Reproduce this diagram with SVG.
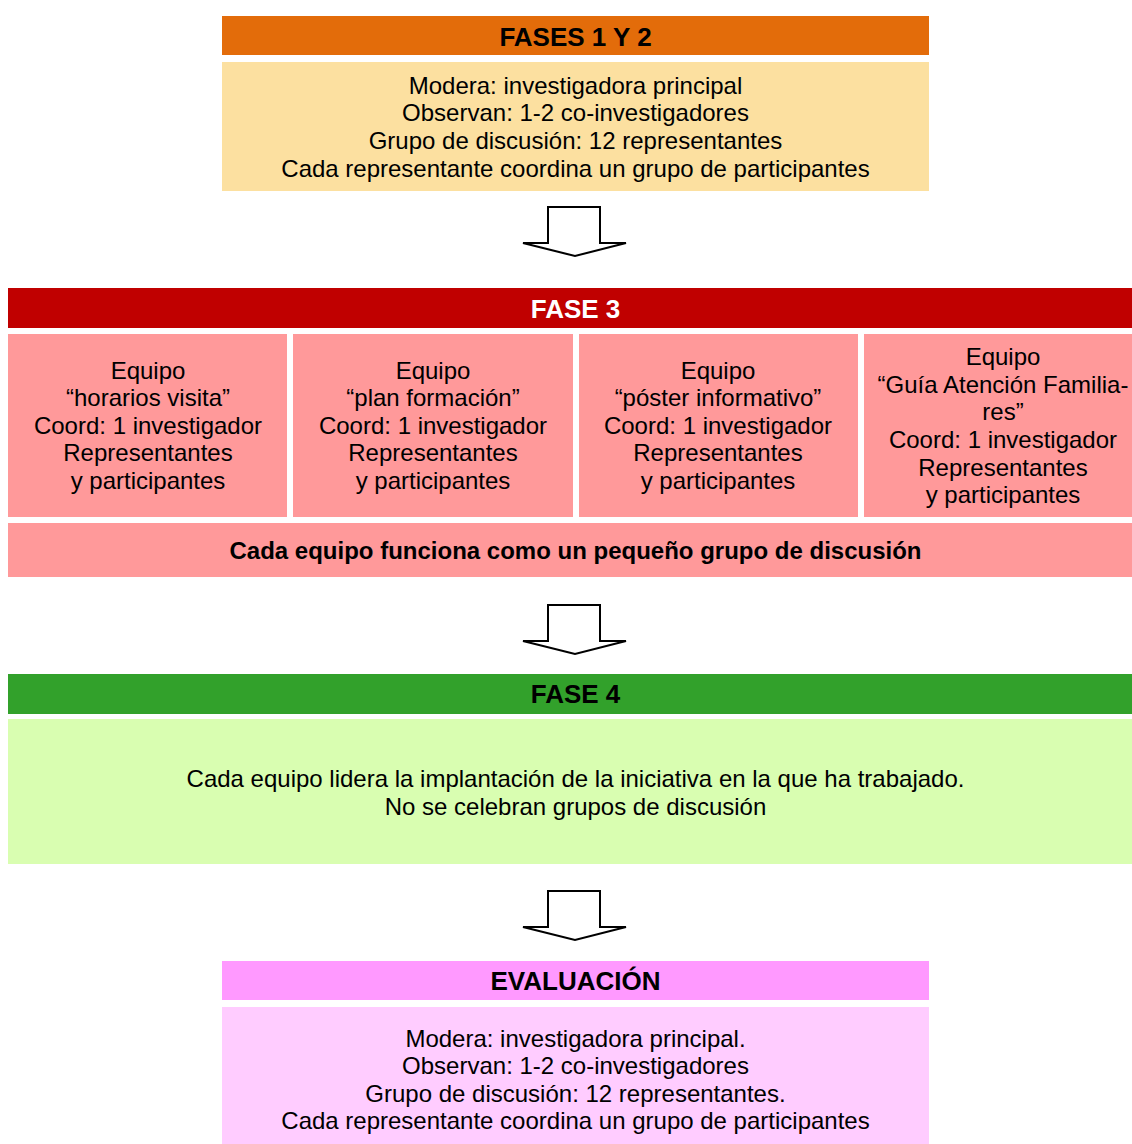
<svg xmlns="http://www.w3.org/2000/svg" width="1132" height="1144" viewBox="0 0 1132 1144">
<style>
text{font-family:"Liberation Sans",Arial,sans-serif;font-size:24px;fill:#000;text-anchor:middle}
.h{font-weight:bold;font-size:26px}
.b{font-weight:bold}
.w{fill:#fff}
.arr{fill:#fff;stroke:#000;stroke-width:2;stroke-linejoin:miter}
</style>
<rect width="1132" height="1144" fill="#fff"/>
<g id="fases12">
<rect x="222" y="16" width="707" height="39" fill="#E36C0A"/>
<text class="h" x="575.5" y="46">FASES 1 Y 2</text>
<rect x="222" y="62" width="707" height="129" fill="#FCE0A0"/>
<text x="575.5" y="94">Modera: investigadora principal</text>
<text x="575.5" y="121">Observan: 1-2 co-investigadores</text>
<text x="575.5" y="149">Grupo de discusión: 12 representantes</text>
<text x="575.5" y="177">Cada representante coordina un grupo de participantes</text>
</g>
<g id="fase3">
<rect x="8" y="288" width="1124" height="40" fill="#C00000"/>
<text class="h w" x="575.5" y="318">FASE 3</text>
</g>
<g id="equipo1">
<rect x="8" y="334" width="279" height="183" fill="#FF999A"/>
<text x="148" y="379">Equipo</text>
<text x="148" y="406">“horarios visita”</text>
<text x="148" y="434">Coord: 1 investigador</text>
<text x="148" y="461">Representantes</text>
<text x="148" y="489">y participantes</text>
</g>
<g id="equipo2">
<rect x="293" y="334" width="280" height="183" fill="#FF999A"/>
<text x="433" y="379">Equipo</text>
<text x="433" y="406">“plan formación”</text>
<text x="433" y="434">Coord: 1 investigador</text>
<text x="433" y="461">Representantes</text>
<text x="433" y="489">y participantes</text>
</g>
<g id="equipo3">
<rect x="579" y="334" width="279" height="183" fill="#FF999A"/>
<text x="718" y="379">Equipo</text>
<text x="718" y="406">“póster informativo”</text>
<text x="718" y="434">Coord: 1 investigador</text>
<text x="718" y="461">Representantes</text>
<text x="718" y="489">y participantes</text>
</g>
<g id="equipo4">
<rect x="864" y="334" width="268" height="183" fill="#FF999A"/>
<text x="1003" y="365">Equipo</text>
<text x="1003" y="393">“Guía Atención Familia-</text>
<text x="1003" y="420">res”</text>
<text x="1003" y="448">Coord: 1 investigador</text>
<text x="1003" y="476">Representantes</text>
<text x="1003" y="503">y participantes</text>
</g>
<g id="fase3nota">
<rect x="8" y="523" width="1124" height="54" fill="#FF999A"/>
<text class="b" x="575.5" y="559">Cada equipo funciona como un pequeño grupo de discusión</text>
</g>
<g id="fase4">
<rect x="8" y="674" width="1124" height="40" fill="#32A12B"/>
<text class="h" x="575.5" y="703">FASE 4</text>
<rect x="8" y="719" width="1124" height="145" fill="#D9FEB1"/>
<text x="575.5" y="787">Cada equipo lidera la implantación de la iniciativa en la que ha trabajado.</text>
<text x="575.5" y="815">No se celebran grupos de discusión</text>
</g>
<g id="evaluacion">
<rect x="222" y="961" width="707" height="39" fill="#FF99FF"/>
<text class="h" x="575.5" y="990">EVALUACIÓN</text>
<rect x="222" y="1007" width="707" height="137" fill="#FFCCFF"/>
<text x="575.5" y="1047">Modera: investigadora principal.</text>
<text x="575.5" y="1074">Observan: 1-2 co-investigadores</text>
<text x="575.5" y="1102">Grupo de discusión: 12 representantes.</text>
<text x="575.5" y="1129">Cada representante coordina un grupo de participantes</text>
</g>
<g id="connectors">
<path class="arr" d="M548,207 H600 V243 H626 L575,256 L523,243 H548 Z"/>
<path class="arr" d="M548,605 H600 V641 H626 L575,654 L523,641 H548 Z"/>
<path class="arr" d="M548,891 H600 V927 H626 L575,940 L523,927 H548 Z"/>
</g>
</svg>
